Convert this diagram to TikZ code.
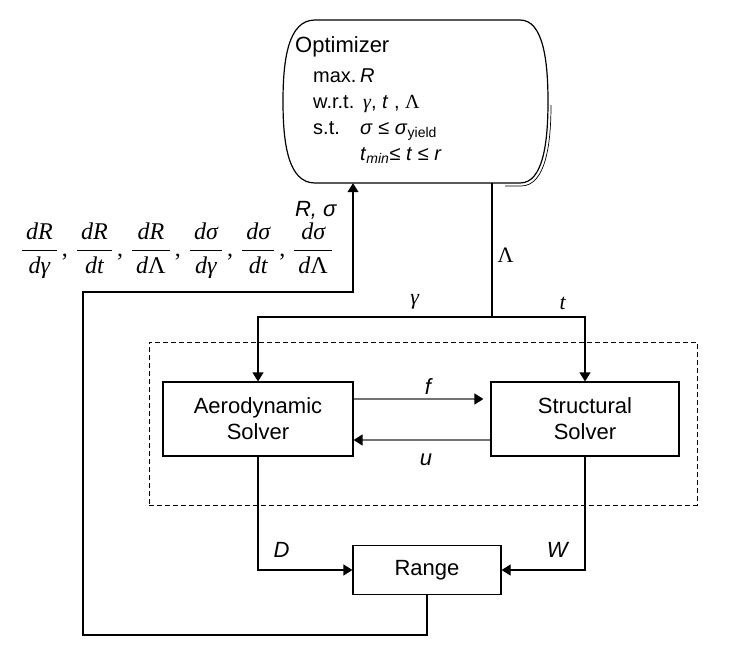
\documentclass[tikz,border=0pt]{standalone}
\usepackage{fontspec}
\setmainfont{Liberation Sans}
\newfontfamily\tms{Liberation Serif}
\usetikzlibrary{arrows.meta, positioning}
\newcommand{\dfr}[2]{\frac{\mbox{\kern4pt\tms\itshape d#1\kern4pt}}{\mbox{\kern4pt\tms\itshape d#2\kern4pt}}}
\newcommand{\cm}{\kern4pt\mbox{\tms ,}\kern8pt}

\begin{document}
\begin{tikzpicture}[x=1pt, y=-1pt,
    box/.style={draw, line width=1.2pt, align=center, inner sep=0pt, font=\fontsize{22}{26}\selectfont},
    solver/.style={box, minimum width=190pt, minimum height=74pt},
    arr/.style={-{Triangle[length=9pt, width=11pt]}, line width=1.2pt},
    wire/.style={line width=1.2pt},
    greyarr/.style={-{Triangle[length=9pt, width=11pt, fill=black, color=black]}, line width=1.4pt, black!55},
    lbl/.style={font=\fontsize{22}{26}\selectfont\itshape, inner sep=2pt, text=black},
    optline/.style={anchor=base west, inner sep=0pt, font=\fontsize{20}{24}\selectfont},
]
\useasboundingbox (0,0) rectangle (729,645);

% --- Optimizer (drawn outline, node only for anchors) ---
\node[minimum width=265pt, minimum height=163pt, inner sep=0pt] (opt) at (415.5,101.5) {};
\draw[wire] (315,20) -- (520,20) .. controls (543,20) and (548,60) .. (548,101.5)
    .. controls (548,143) and (543,183) .. (520,183) -- (315,183)
    .. controls (288,183) and (283,143) .. (283,101.5)
    .. controls (283,60) and (288,20) .. (315,20) -- cycle;
\draw[line width=0.7pt] (505,186) -- (521,186) .. controls (546,186) and (551,143) .. (551,105);

\node[optline, font=\fontsize{22}{26}\selectfont] (optname) at (295,52) {Optimizer};
\node[optline] (maxkw)  at (313,82)  {max.};
\node[optline] (maxobj) at (360,82)  {\textit{R}};
\node[optline] (wrtkw)  at (313,108) {w.r.t.};
\node[optline] (wrtvar) at (363,108) {{\tms\itshape γ}, \textit{t} , {\tms Λ}};
\node[optline] (stkw)   at (313,134) {s.t.};
\node[optline] (stcon)  at (360,134) {\textit{σ} ≤ \textit{σ}\textsubscript{yield}};
\node[optline] (stbnd)  at (360,160) {\textit{t}\textsubscript{\textit{min}}≤ \textit{t} ≤ \textit{r}};

% --- Gradients ---
\node[inner sep=0pt, font=\fontsize{24}{28}\selectfont] (grads) at (177,251)
    {$\displaystyle \dfr{R}{γ}\cm\dfr{R}{t}\cm\dfr{R}{\upshape Λ}\cm\dfr{σ}{γ}\cm\dfr{σ}{t}\cm\dfr{σ}{\upshape Λ}$};

% --- MDA block ---
\node[draw, dashed, dash pattern=on 5pt off 3pt, line width=1pt, minimum width=548pt, minimum height=163pt, inner sep=0pt] (mda) at (423,423.5) {};
\node[solver] (aero)   at (258,419) {Aerodynamic\\Solver};
\node[solver, minimum width=188pt] (struct) at (585,419) {Structural\\Solver};
\node[box, minimum width=148pt, minimum height=49pt] (range) at (427,570) {Range};

% --- Design variables ---
\coordinate (split) at (492,317);
\draw[wire] (opt.south -| split) -- (split) node[lbl, right=3pt, pos=0.54] (lamlbl) {\tms\upshape Λ};
\draw[arr] (split) -| (aero.north) node[lbl, above=5pt, pos=0.165] (gamlbl) {\tms γ};
\draw[arr] (split) -| (struct.north) node[lbl, above=5pt, pos=0.38] (tlbl) {\tms t};

% --- Coupling ---
\draw[greyarr, shorten >=7pt] ([yshift=20pt]aero.east) -- ([yshift=20pt]aero.east -| struct.west)
    node[lbl, above=2pt, midway, xshift=6pt] (flbl) {f};
\draw[greyarr] ([yshift=-21pt]struct.west) -- ([yshift=-21pt]struct.west -| aero.east)
    node[lbl, below=11pt, midway, xshift=4pt] (ulbl) {u};

% --- Range inputs ---
\draw[arr] (aero.south) |- (range.west) node[lbl, above=10pt, pos=0.625] (dlbl) {D};
\draw[arr] (struct.south) |- (range.east) node[lbl, above=10pt, pos=0.667] (wlbl) {W};

% --- Feedback to optimizer ---
\coordinate (fbfoot) at (83,635);
\coordinate (fbtop) at (353,292);
\draw[arr] (range.south) |- (fbfoot) |- (fbtop) -- (fbtop |- opt.south)
    node[lbl, left=14pt, pos=0.75] (rsig) {R, σ};

\end{tikzpicture}
\end{document}
